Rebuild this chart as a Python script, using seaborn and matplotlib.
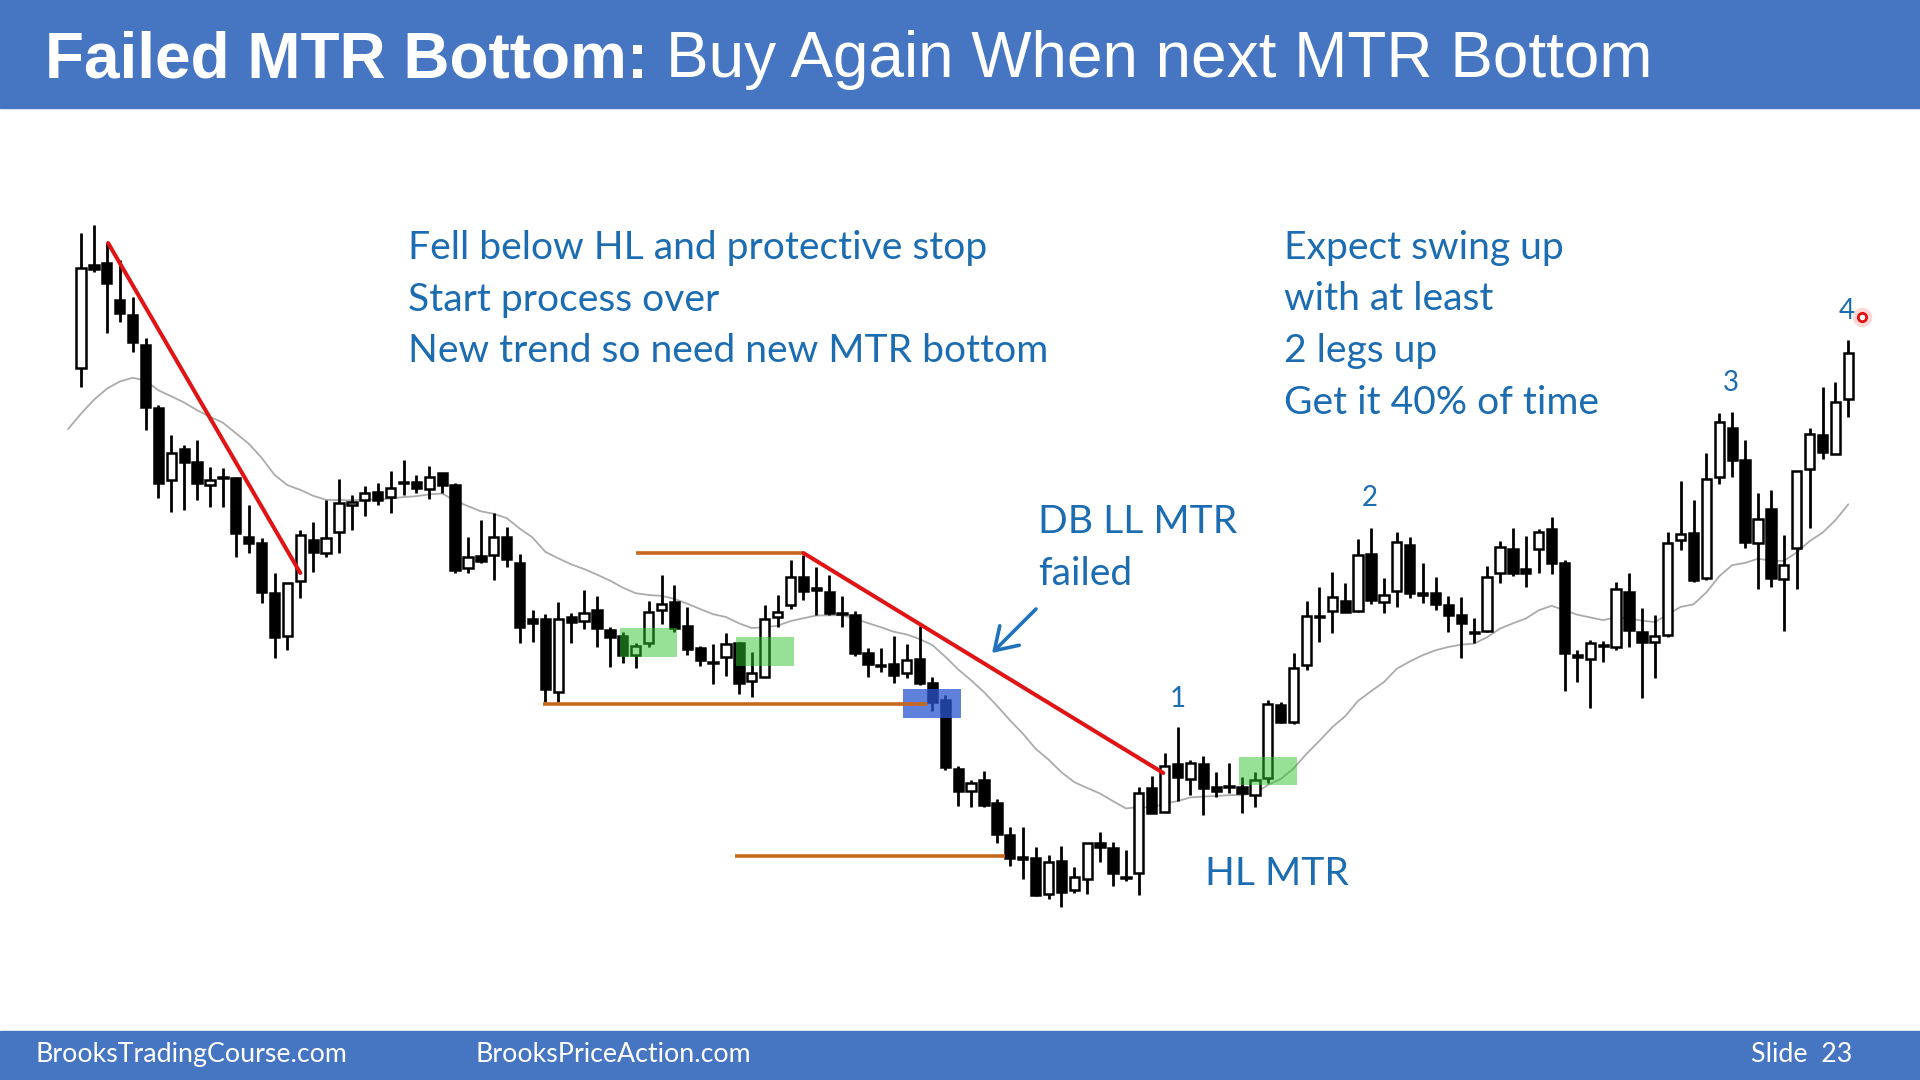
import matplotlib
matplotlib.use('Agg')
import matplotlib.pyplot as plt
from matplotlib.patches import Rectangle
import numpy as np
import pandas as pd
import seaborn as sns

# ---- price bars (arbitrary price units) ----
highs = [767, 775, 757, 740, 703, 662, 595, 565, 555, 560, 533, 532, 523, 495, 462, 427, 417, 470, 478, 500,
         521, 505, 514, 517, 529, 540, 525, 534, 527, 517, 463, 480, 487, 473, 446, 390, 386, 398, 387, 410,
         404, 373, 368, 357, 399, 425, 415, 393, 354, 356, 367, 358, 348, 395, 405, 440, 445, 433, 425, 404,
         389, 352, 352, 364, 356, 374, 323, 305, 234, 220, 229, 201, 173, 173, 153, 145, 154, 133, 157, 168,
         158, 150, 213, 224, 247, 273, 240, 244, 228, 237, 223, 228, 300, 298, 347, 399, 413, 428, 417, 461,
         472, 422, 468, 463, 437, 423, 404, 403, 382, 434, 459, 472, 464, 471, 483, 440, 350, 360, 359, 418,
         427, 392, 385, 468, 519, 500, 547, 587, 588, 560, 507, 510, 465, 529, 572, 613, 618, 660]
opens = [632, 735, 737, 700, 685, 655, 592, 520, 551, 538, 515, 523, 522, 463, 457, 407, 364, 419, 460, 447,
         468, 495, 500, 508, 503, 518, 518, 511, 527, 515, 432, 444, 445, 463, 437, 381, 381, 308, 383, 379,
         390, 370, 364, 345, 357, 390, 398, 374, 352, 338, 343, 357, 319, 323, 383, 395, 423, 412, 408, 387,
         385, 347, 335, 336, 327, 341, 317, 300, 231, 209, 220, 197, 165, 143, 142, 106, 139, 110, 121, 157,
         152, 123, 127, 212, 188, 236, 221, 236, 213, 214, 213, 205, 222, 295, 278, 335, 384, 389, 399, 389,
         446, 398, 409, 455, 407, 407, 395, 385, 368, 369, 427, 451, 431, 451, 471, 437, 345, 341, 355, 353,
         408, 368, 358, 365, 460, 467, 422, 523, 572, 540, 457, 491, 421, 452, 531, 565, 546, 601]
closes = [732, 731, 717, 687, 658, 593, 517, 547, 538, 517, 520, 522, 467, 457, 408, 363, 417, 465, 448, 462,
          497, 498, 507, 500, 512, 517, 512, 523, 515, 430, 443, 439, 463, 441, 373, 377, 311, 381, 378, 387,
          372, 363, 345, 354, 388, 396, 372, 351, 340, 337, 356, 317, 327, 381, 388, 423, 409, 410, 387, 386,
          347, 336, 334, 325, 340, 317, 298, 233, 209, 217, 195, 166, 142, 141, 105, 138, 108, 123, 157, 153,
          127, 122, 207, 187, 234, 223, 237, 212, 209, 213, 207, 220, 296, 278, 332, 384, 383, 403, 388, 445,
          400, 405, 458, 407, 405, 396, 385, 377, 367, 423, 453, 427, 427, 468, 437, 347, 343, 357, 354, 411,
          370, 358, 364, 457, 466, 420, 521, 578, 540, 458, 481, 422, 435, 529, 566, 548, 598, 647]
lows = [613, 728, 667, 678, 648, 570, 502, 488, 490, 500, 493, 493, 443, 447, 397, 342, 350, 402, 428, 443,
        447, 470, 484, 495, 487, 505, 507, 501, 507, 427, 427, 437, 420, 433, 357, 358, 298, 298, 357, 371,
        353, 333, 337, 332, 353, 376, 368, 345, 334, 316, 324, 306, 303, 323, 373, 391, 400, 385, 385, 373,
        344, 323, 328, 317, 322, 315, 289, 230, 194, 193, 193, 157, 134, 121, 104, 101, 93, 107, 106, 138,
        114, 119, 105, 187, 188, 199, 205, 185, 203, 207, 187, 193, 217, 277, 276, 330, 358, 367, 388, 388,
        396, 387, 393, 402, 397, 390, 368, 342, 357, 368, 417, 424, 413, 427, 426, 309, 318, 292, 338, 350,
        353, 302, 322, 363, 450, 418, 420, 516, 523, 452, 411, 413, 369, 411, 472, 541, 546, 583]
ema_seed = 571          # value of the 20 EMA just before bar 1
ema_span = 20

# ---- drawn annotations (bar number, price) ----
trend_line_1 = [(3.1, 757), (18.0, 427)]
trend_line_2 = [(57.0, 447), (84.9, 227)]
hl_lines = [(44.0, 57.0, 447), (36.8, 66.6, 296), (51.7, 72.6, 144)]
green_boxes = [(42.8, 47.2, 343, 372), (51.8, 56.3, 334, 363), (90.8, 95.3, 215, 243)]
blue_box = (64.7, 69.2, 282, 311)
leg_labels = ['1', '2', '3', '4']
leg_pos = [(86.0, 301), (100.9, 502), (128.9, 617), (137.9, 689)]
pointer_dot = (139.1, 683)

TEXT_BLUE = '#1c6cb2'
BAR_BLUE = '#4676c2'

sns.set_theme(style="white")
plt.rcParams['font.family'] = ['Lato', 'DejaVu Sans']

fig = plt.figure(figsize=(19.2, 10.8), dpi=100)
fig.patch.set_facecolor('white')
ax = fig.add_axes([0, 0, 1, 1])
ax.set_facecolor('white')
ax.axis('off')

n = np.arange(1, len(closes) + 1)
df = pd.DataFrame({'bar': n, 'open': opens, 'high': highs, 'low': lows, 'close': closes})

# 20 bar EMA
ema = pd.Series([ema_seed] + closes).ewm(span=ema_span, adjust=False).mean()
ema_df = pd.DataFrame({'bar': np.arange(0, len(closes) + 1), 'ema': ema.values})
sns.lineplot(data=ema_df, x='bar', y='ema', ax=ax, color='#ababab', lw=1.3, zorder=1)

# candles
ax.vlines(df['bar'], df['low'], df['high'], color='black', lw=2.0, zorder=2)
up = df['close'] >= df['open']
body_lo = np.minimum(df['open'], df['close'])
body_h = np.maximum(np.abs(df['close'] - df['open']), 1.5)
ax.bar(df['bar'][up], body_h[up], bottom=body_lo[up], width=0.72,
       color='white', edgecolor='black', lw=1.8, zorder=3)
ax.bar(df['bar'][~up], body_h[~up], bottom=body_lo[~up], width=0.72,
       color='black', edgecolor='black', lw=1.8, zorder=3)

# highlight boxes
for x0, x1, y0, y1 in green_boxes:
    ax.add_patch(Rectangle((x0, y0), x1 - x0, y1 - y0, color='#2fc42f', alpha=0.5, lw=0, zorder=4))
bx0, bx1, by0, by1 = blue_box
ax.add_patch(Rectangle((bx0, by0), bx1 - bx0, by1 - by0, color='#2a55d0', alpha=0.75, lw=0, zorder=4))

# lines
for (xa, xb, y) in hl_lines:
    ax.plot([xa, xb], [y, y], color='#c8671e', lw=2.6, zorder=5, solid_capstyle='butt')
for line in (trend_line_1, trend_line_2):
    ax.plot([p[0] for p in line], [p[1] for p in line], color='#e01414', lw=2.9, zorder=5)

ax.set_xlim(1 - 81 / 12.9, 1 + 1839 / 12.9)
ax.set_ylim(-80, 1000)

# leg numbers
for lab, (bx, py) in zip(leg_labels, leg_pos):
    ax.text(bx, py, lab, color=TEXT_BLUE, fontsize=20, ha='center', va='center', zorder=6)
ax.plot([pointer_dot[0]], [pointer_dot[1]], 'o', ms=14, color='#ff9090', alpha=0.35, mec='none', zorder=6)
ax.plot([pointer_dot[0]], [pointer_dot[1]], 'o', ms=6, mfc='white', mec='#e01010', mew=2, zorder=7)

# title and footer bars
fig.patches.append(Rectangle((0, 1 - 108 / 1080), 1, 108 / 1080, transform=fig.transFigure,
                             color=BAR_BLUE, zorder=0))
fig.patches.append(Rectangle((0, 0), 1, 49 / 1080, transform=fig.transFigure,
                             color=BAR_BLUE, zorder=0))

renderer = fig.canvas.get_renderer()


def fit_size(txt, target_px, **kw):
    t = fig.text(0, 0, txt, fontsize=20, **kw)
    w = t.get_window_extent(renderer).width
    t.remove()
    return 20 * target_px / w


def put(xpx, ypx, txt, size, **kw):
    return fig.text(xpx / 1920, 1 - ypx / 1080, txt, fontsize=size, va='baseline', **kw)


# title
t1 = put(45, 77, 'Failed MTR Bottom:', 46, color='white', fontweight='bold',
         family=['Liberation Sans', 'DejaVu Sans'])
w1 = t1.get_window_extent(renderer).width
put(45 + w1 + 18, 77, 'Buy Again When next MTR Bottom', 46, color='white',
    family=['Liberation Sans', 'DejaVu Sans'])

# annotation text
body_size = fit_size('New trend so need new MTR bottom', 640)
block1 = ['Fell below HL and protective stop', 'Start process over', 'New trend so need new MTR bottom']
for i, line in enumerate(block1):
    put(408, 259 + 51.5 * i, line, body_size, color=TEXT_BLUE)
block2 = ['Expect swing up', 'with at least', '2 legs up', 'Get it 40% of time']
for i, line in enumerate(block2):
    put(1284, 259 + 51.5 * i, line, body_size, color=TEXT_BLUE)
put(1038, 533, 'DB LL MTR', body_size, color=TEXT_BLUE)
put(1038, 585, 'failed', body_size, color=TEXT_BLUE)
put(1205, 885, 'HL MTR', body_size, color=TEXT_BLUE)

ax.annotate('', xy=(992, 1080 - 653), xytext=(1036, 1080 - 609),
            xycoords='figure pixels', textcoords='figure pixels',
            arrowprops=dict(arrowstyle='->,head_length=0.7,head_width=0.45', color='#1f72bb',
                            lw=2.6, mutation_scale=22, shrinkA=0, shrinkB=0))

# footer
foot_size = fit_size('BrooksTradingCourse.com', 311)
put(36, 1062, 'BrooksTradingCourse.com', foot_size, color='white')
put(475, 1062, 'BrooksPriceAction.com', foot_size, color='white')
put(1751, 1062, 'Slide  23', foot_size, color='white')

fig.savefig('out.png', dpi=100, facecolor='white')
